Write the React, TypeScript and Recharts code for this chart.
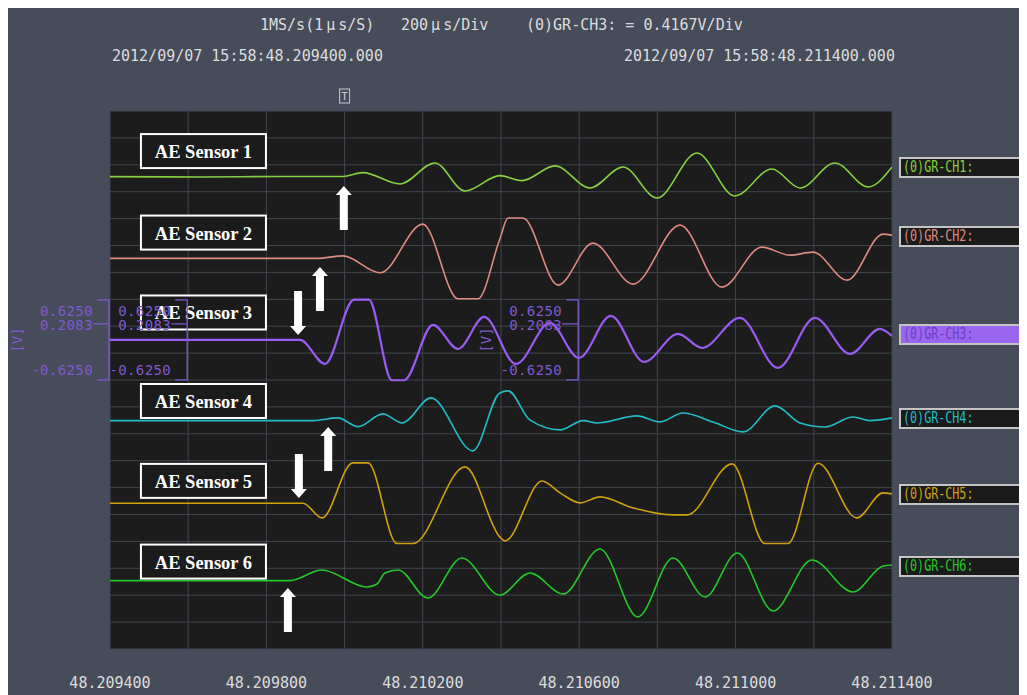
import React from "react";
import { LineChart, Line, XAxis, YAxis, CartesianGrid, ReferenceDot } from "recharts";

// ---------- data (time in µs from 48.209400 s, amplitude in V) ----------
const VOLTS_PER_DIV = 0.4167;

const channelNames = ["(0)GR-CH1:", "(0)GR-CH2:", "(0)GR-CH3:", "(0)GR-CH4:", "(0)GR-CH5:", "(0)GR-CH6:"];
const sensorLabels = ["AE Sensor 1", "AE Sensor 2", "AE Sensor 3", "AE Sensor 4", "AE Sensor 5", "AE Sensor 6"];
const channelColors = ["#86d040", "#df8a80", "#9a5cf0", "#22bcc8", "#d0a010", "#24c828"];
// vertical position of each channel's zero line, in screen divisions from the bottom
const channelOffsets = [17.56, 14.52, 11.49, 8.49, 5.42, 2.54];

const ch1Time = [0, 230, 435, 596, 647, 742, 831, 908, 997, 1054, 1138, 1228, 1312, 1399, 1501, 1598, 1693, 1765, 1854, 1939, 2000];
const ch1Volts = [0, -0.005, 0.003, 0.003, 0.062, -0.113, 0.212, -0.222, 0.015, -0.062, 0.166, -0.175, 0.15, -0.33, 0.367, -0.299, 0.119, -0.175, 0.212, -0.16, 0.15];

const ch2Time = [0, 529, 596, 691, 800, 890, 941, 997, 1018, 1056, 1146, 1235, 1338, 1458, 1565, 1667, 1739, 1798, 1885, 1977, 2000];
const ch2Volts = [0, 0, 0.04, -0.223, 0.531, -0.625, -0.625, 0.3, 0.625, 0.625, -0.414, 0.237, -0.398, 0.516, -0.445, 0.175, 0.051, 0.098, -0.336, 0.376, 0.361];

const ch3Time = [0, 486, 550, 624, 662, 721, 752, 826, 890, 957, 1038, 1125, 1199, 1281, 1366, 1453, 1514, 1611, 1708, 1803, 1893, 1969, 2000];
const ch3Volts = [0, 0, -0.372, 0.625, 0.625, -0.625, -0.625, 0.232, -0.139, 0.356, -0.372, 0.263, -0.279, 0.372, -0.341, 0.093, -0.124, 0.341, -0.434, 0.341, -0.217, 0.17, 0.062];

const ch4Time = [0, 519, 583, 634, 698, 747, 821, 928, 997, 1018, 1074, 1151, 1210, 1245, 1348, 1407, 1465, 1542, 1619, 1701, 1765, 1829, 1900, 1944, 2000];
const ch4Volts = [0, 0, 0.042, -0.093, 0.104, -0.036, 0.352, -0.469, 0.429, 0.46, 0.011, -0.144, 0, -0.036, 0.073, -0.02, 0.119, -0.02, -0.175, 0.228, -0.036, -0.098, 0.057, 0, 0.042];

const ch5Time = [0, 494, 542, 621, 660, 734, 775, 908, 997, 1010, 1105, 1151, 1202, 1253, 1338, 1440, 1476, 1591, 1675, 1734, 1811, 1910, 1977, 2000];
const ch5Volts = [0, 0, -0.228, 0.625, 0.625, -0.625, -0.625, 0.562, -0.522, -0.584, 0.345, 0.16, 0.005, 0.098, -0.073, -0.181, -0.181, 0.609, -0.625, -0.625, 0.62, -0.228, 0.16, 0.144];

const ch6Time = [0, 460, 542, 657, 683, 703, 737, 813, 900, 997, 1074, 1159, 1253, 1350, 1440, 1522, 1604, 1696, 1795, 1900, 1977, 2000];
const ch6Volts = [0, 0, 0.166, -0.098, -0.051, 0.119, 0.166, -0.268, 0.352, -0.222, 0.119, -0.206, 0.491, -0.562, 0.352, -0.252, 0.429, -0.469, 0.321, -0.175, 0.228, 0.243];

const gridTimeTicks = [0, 200, 400, 600, 800, 1000, 1200, 1400, 1600, 1800, 2000];
const gridDivTicks = [0, 1, 2, 3, 4, 5, 6, 7, 8, 9, 10, 11, 12, 13, 14, 15, 16, 17, 18, 19, 20];
const xLabelTicks = [0, 400, 800, 1200, 1600, 2000];
const xLabelText = ["48.209400", "48.209800", "48.210200", "48.210600", "48.211000", "48.211400"];

// annotation anchors (time µs, divisions)
const arrowTimes = [598, 537, 481, 558, 483, 455];
const arrowLevels = [17.21, 14.2, 11.67, 8.25, 5.61, 2.27];
const arrowDirs = ["up", "up", "down", "up", "down", "up"];
const sensorLabelTime = 239;
const sensorLabelLevels = [18.51, 15.48, 12.51, 9.22, 6.25, 3.25];
const scaleGroupTimes = [0, 200, 1200];
const scaleGroupShowUnit = [true, false, true];
const scaleLabels = ["0.6250", "0.2083", "-0.6250"];
const triggerTime = 600;

// ---------- build series ----------
const timeSets = [ch1Time, ch2Time, ch3Time, ch4Time, ch5Time, ch6Time];
const voltSets = [ch1Volts, ch2Volts, ch3Volts, ch4Volts, ch5Volts, ch6Volts];
const seriesRows = timeSets.map((times, c) =>
  times.map((t, i) => ({ t, v: channelOffsets[c] + voltSets[c][i] / VOLTS_PER_DIV }))
);

const MONO = '"DejaVu Sans Mono", "Liberation Mono", monospace';
const TEXT_COLOR = "#dcdcdc";
const PURPLE = "#7f5ad0";

const XTick = (props: any) => {
  const { x, y, payload } = props;
  const idx = xLabelTicks.indexOf(payload.value);
  if (idx < 0) return <g />;
  return (
    <text x={x} y={y + 34} textAnchor="middle" dominantBaseline="central" fill={TEXT_COLOR} fontFamily={MONO} fontSize={15}>
      {xLabelText[idx]}
    </text>
  );
};

const EmptyTick = () => <g />;

const makeArrow = (dir: string) => (props: any) => {
  const { cx, cy } = props;
  if (cx == null || cy == null) return <g />;
  const s = dir === "up" ? 1 : -1;
  const pts = [
    [cx, cy],
    [cx + 8, cy + s * 9],
    [cx + 4, cy + s * 9],
    [cx + 4, cy + s * 44],
    [cx - 4, cy + s * 44],
    [cx - 4, cy + s * 9],
    [cx - 8, cy + s * 9],
  ]
    .map((p) => p.join(","))
    .join(" ");
  return <polygon points={pts} fill="#ffffff" />;
};

const makeSensorBox = (label: string) => (props: any) => {
  const { cx, cy } = props;
  if (cx == null || cy == null) return <g />;
  return (
    <g>
      <rect x={cx - 62.5} y={cy - 17} width={125} height={34} fill="#1b1b1b" stroke="#ffffff" strokeWidth={2} />
      <text
        x={cx}
        y={cy + 1}
        textAnchor="middle"
        dominantBaseline="central"
        fill="#ffffff"
        fontFamily='"Liberation Serif", "Times New Roman", serif'
        fontWeight="bold"
        fontSize={18.5}
      >
        {label}
      </text>
    </g>
  );
};

const makeScaleGroup = (showUnit: boolean) => (props: any) => {
  const { cx, cy } = props;
  if (cx == null || cy == null) return <g />;
  const bx = cx - 1;
  const tx = bx - 16;
  const common = {
    fill: PURPLE,
    fontFamily: MONO,
    fontSize: 14,
    letterSpacing: 0.4,
    textAnchor: "end" as const,
    dominantBaseline: "central" as const,
  };
  return (
    <g>
      <path
        d={`M${bx - 12},${cy - 40} H${bx} V${cy + 40} H${bx - 12} M${bx - 16},${cy - 16} H${bx}`}
        stroke={PURPLE}
        strokeWidth={1.3}
        fill="none"
      />
      <text x={tx} y={cy - 29} {...common}>{scaleLabels[0]}</text>
      <text x={tx} y={cy - 15} {...common}>{scaleLabels[1]}</text>
      <text x={tx} y={cy + 30} {...common}>{scaleLabels[2]}</text>
      {showUnit && (
        <text
          x={bx - 92}
          y={cy}
          fill={PURPLE}
          fontFamily={MONO}
          fontSize={14}
          textAnchor="middle"
          dominantBaseline="central"
          transform={`rotate(-90 ${bx - 92} ${cy})`}
        >
          [V]
        </text>
      )}
    </g>
  );
};

const triggerShape = (props: any) => {
  const { cx, cy } = props;
  if (cx == null || cy == null) return <g />;
  return (
    <g>
      <rect x={cx - 5} y={cy - 22} width={10} height={14} fill="none" stroke="#c8c8c8" strokeWidth={1} />
      <text x={cx} y={cy - 14.5} textAnchor="middle" dominantBaseline="central" fill="#c8c8c8" fontFamily={MONO} fontSize={11}>
        T
      </text>
    </g>
  );
};

const horizontalGen = (p: any) => {
  const y = p && p.yAxis;
  if (y && typeof y.scale === "function") return gridDivTicks.map((d) => y.scale(d));
  const off = p.offset;
  return gridDivTicks.map((d) => off.top + off.height * (1 - d / 20));
};

const chLabelTops = [149, 218, 316, 400, 476, 548];

export default function App() {
  const textStyle: React.CSSProperties = {
    position: "absolute",
    fontFamily: MONO,
    fontSize: 15,
    lineHeight: "18px",
    color: TEXT_COLOR,
    whiteSpace: "pre",
  };
  const mu = <span style={{ padding: "0 3px" }}>μ</span>;
  return (
    <div style={{ position: "relative", width: 1019, height: 687, background: "#474c5a", overflow: "hidden" }}>
      <LineChart width={1019} height={687} margin={{ top: 103, right: 135, bottom: 6, left: 102 }}>
        <CartesianGrid
          stroke="#41454f"
          strokeWidth={1}
          fill="#1c1c1c"
          fillOpacity={1}
          horizontalCoordinatesGenerator={horizontalGen}
        />
        <XAxis
          type="number"
          dataKey="t"
          domain={[0, 2000]}
          ticks={gridTimeTicks}
          interval={0}
          allowDataOverflow
          axisLine={false}
          tickLine={false}
          tickSize={0}
          tickMargin={0}
          height={40}
          tick={<XTick />}
        />
        <YAxis
          type="number"
          domain={[0, 20]}
          ticks={gridDivTicks}
          interval={0}
          allowDataOverflow
          width={0}
          axisLine={false}
          tickLine={false}
          tick={<EmptyTick />}
        />
        {seriesRows.map((rows, c) => (
          <Line
            key={c}
            data={rows}
            dataKey="v"
            type="monotoneX"
            stroke={channelColors[c]}
            strokeWidth={c === 2 ? 2.2 : 1.6}
            dot={false}
            activeDot={false}
            isAnimationActive={false}
          />
        ))}
        {sensorLabelLevels.map((lv, i) => (
          <ReferenceDot
            key={"s" + i}
            x={sensorLabelTime}
            y={lv}
            r={1}
            ifOverflow="visible"
            shape={makeSensorBox(sensorLabels[i])}
          />
        ))}
        {scaleGroupTimes.map((t, i) => (
          <ReferenceDot
            key={"g" + i}
            x={t}
            y={channelOffsets[2]}
            r={1}
            ifOverflow="visible"
            shape={makeScaleGroup(scaleGroupShowUnit[i])}
          />
        ))}
        {arrowTimes.map((t, i) => (
          <ReferenceDot key={"a" + i} x={t} y={arrowLevels[i]} r={1} ifOverflow="visible" shape={makeArrow(arrowDirs[i])} />
        ))}
        <ReferenceDot x={triggerTime} y={20} r={1} ifOverflow="visible" shape={triggerShape} />
      </LineChart>

      <div style={{ ...textStyle, left: 252, top: 8 }}>1MS/s(1{mu}s/S)</div>
      <div style={{ ...textStyle, left: 393, top: 8 }}>200{mu}s/Div</div>
      <div style={{ ...textStyle, left: 518, top: 8 }}>(0)GR-CH3: = 0.4167V/Div</div>
      <div style={{ ...textStyle, left: 104, top: 39 }}>2012/09/07 15:58:48.209400.000</div>
      <div style={{ ...textStyle, left: 616, top: 39 }}>2012/09/07 15:58:48.211400.000</div>

      {channelNames.map((name, i) => (
        <div
          key={name}
          style={{
            position: "absolute",
            left: 891,
            top: chLabelTops[i],
            width: 124,
            height: 21,
            boxSizing: "border-box",
            border: "2px solid #c4c4c4",
            background: i === 2 ? "#9a66f0" : "#1b1b1b",
            color: i === 2 ? "#6a40c0" : channelColors[i],
            fontFamily: MONO,
            fontSize: 15,
            lineHeight: "17px",
            paddingLeft: 2,
            whiteSpace: "pre",
            overflow: "hidden",
          }}
        >
          <span style={{ display: "inline-block", transform: "scaleX(0.78)", transformOrigin: "0 50%" }}>{name}</span>
        </div>
      ))}
    </div>
  );
}
